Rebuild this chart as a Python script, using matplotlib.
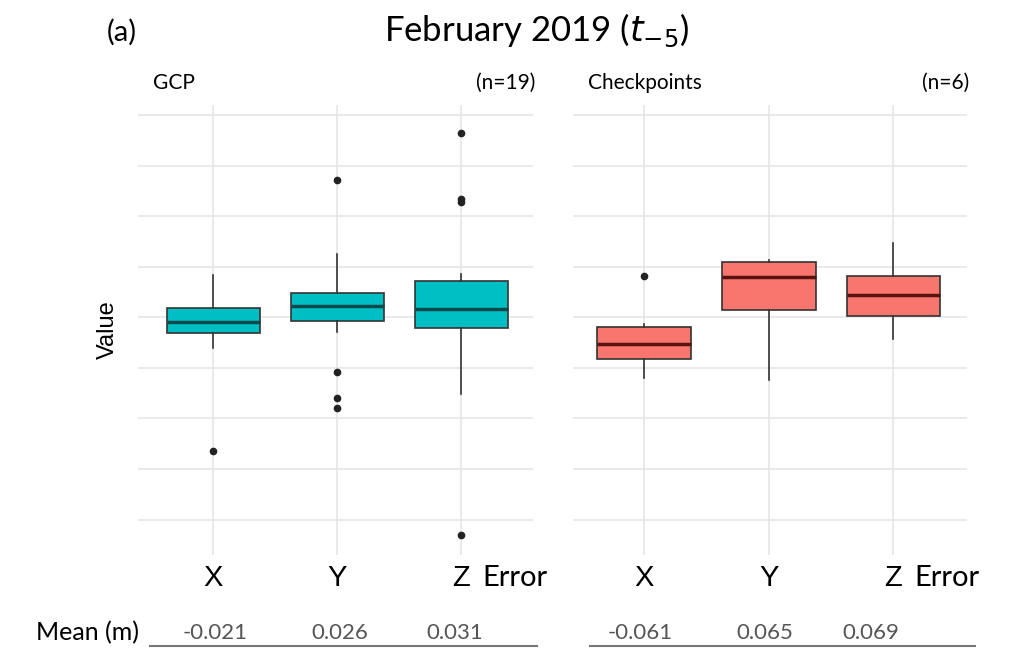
import matplotlib
matplotlib.use("Agg")
import matplotlib.pyplot as plt
import matplotlib.transforms as mtransforms
import numpy as np

# ---- data (arbitrary value units, grid step 0.05) ----
axes_labels = ["X", "Y", "Z"]

gcp_q1 = [-0.0154, -0.0039, -0.0101]
gcp_med = [-0.0042, 0.0115, 0.0081]
gcp_q3 = [0.0091, 0.0238, 0.0360]
gcp_wlo = [-0.0301, -0.0147, -0.0762]
gcp_whi = [0.0415, 0.0627, 0.0425]
gcp_out = [[-0.1324], [0.1363, -0.0539, -0.0801, -0.0899], [0.182, 0.1167, 0.114, -0.215]]
gcp_means = ["-0.021", "0.026", "0.031"]

chk_q1 = [-0.0409, 0.0069, 0.0013]
chk_med = [-0.0268, 0.0395, 0.0223]
chk_q3 = [-0.0098, 0.0546, 0.0405]
chk_wlo = [-0.0598, -0.0621, -0.0213]
chk_whi = [-0.0066, 0.0572, 0.0735]
chk_out = [[0.0405], [], []]
chk_means = ["-0.061", "0.065", "0.069"]

panel_titles = ["GCP", "Checkpoints"]
panel_n = ["(n=19)", "(n=6)"]
panel_colors = ["#00BFC4", "#F8766D"]
median_colors = ["#0b4a4c", "#5a1410"]

cal = ["Lato", "DejaVu Sans"]
arial = ["Liberation Sans", "DejaVu Sans"]

fig = plt.figure(figsize=(10.18, 6.5), dpi=100)

W, H = 1018.0, 650.0
ax_top, ax_bot = 105, 555
panels = [
    dict(left=138, right=533, xlim=(0.395, 3.58), mean_x=[1.02, 2.02, 2.95], line_x=[150, 537],
         q1=gcp_q1, med=gcp_med, q3=gcp_q3, wlo=gcp_wlo, whi=gcp_whi, out=gcp_out, means=gcp_means),
    dict(left=573, right=967, xlim=(0.43, 3.59), mean_x=[0.97, 1.97, 2.82], line_x=[590, 975],
         q1=chk_q1, med=chk_med, q3=chk_q3, wlo=chk_wlo, whi=chk_whi, out=chk_out, means=chk_means),
]

for i, p in enumerate(panels):
    ax = fig.add_axes([p["left"] / W, 1 - ax_bot / H, (p["right"] - p["left"]) / W, (ax_bot - ax_top) / H])
    stats = []
    for k in range(3):
        stats.append(dict(q1=p["q1"][k], med=p["med"][k], q3=p["q3"][k],
                          whislo=p["wlo"][k], whishi=p["whi"][k], fliers=p["out"][k]))
    ax.bxp(stats, positions=[1, 2, 3], widths=0.75, patch_artist=True, showcaps=False,
           boxprops=dict(facecolor=panel_colors[i], edgecolor="#333333", linewidth=1.2),
           medianprops=dict(color=median_colors[i], linewidth=2.5),
           whiskerprops=dict(color="#333333", linewidth=1.2),
           flierprops=dict(marker="o", markerfacecolor="#222222", markeredgecolor="#222222", markersize=4.5))
    ax.set_xlim(*p["xlim"])
    ax.set_ylim(-0.235, 0.21)
    ax.set_yticks(np.arange(-0.2, 0.201, 0.05))
    ax.set_yticklabels([])
    ax.set_xticks([1, 2, 3])
    ax.set_xticklabels([])
    ax.tick_params(length=0)
    ax.grid(True, color="#e6e6e6", linewidth=1.2)
    ax.set_axisbelow(True)
    for s in ax.spines.values():
        s.set_visible(False)

    trans = mtransforms.blended_transform_factory(ax.transData, fig.transFigure)

    # category labels under the panel
    for k, lab in enumerate(axes_labels):
        ax.text(k + 1, 1 - 578 / H, lab, ha="center", va="center", fontsize=21, family=arial, transform=trans)
    ax.text(3.17, 1 - 578 / H, "Error", ha="left", va="center", fontsize=21, family=cal, transform=trans)

    # panel headers
    fig.text((p["left"] + 15) / W, 1 - 83 / H, panel_titles[i], ha="left", va="center", fontsize=15, family=cal)
    fig.text((p["right"] + 2) / W, 1 - 83 / H, panel_n[i], ha="right", va="center", fontsize=15, family=cal)

    # mean row
    for k, m in enumerate(p["means"]):
        ax.text(p["mean_x"][k], 1 - 633 / H, m, ha="center", va="center", fontsize=16, family=cal,
                color="#555555", transform=trans)
    fig.add_artist(plt.Line2D([p["line_x"][0] / W, p["line_x"][1] / W], [1 - 646 / H, 1 - 646 / H],
                             color="#777777", linewidth=1.5))

fig.text(108 / W, 1 - 330 / H, "Value", rotation=90, ha="center", va="center", fontsize=17, family=arial)
fig.text(122 / W, 1 - 32 / H, "(a)", ha="center", va="center", fontsize=21, family=cal)
fig.text(537 / W, 1 - 30 / H, r"February 2019 ($t_{-5}$)", ha="center", va="center",
         fontsize=25, family=cal)
fig.text(88 / W, 1 - 633 / H, "Mean (m)", ha="center", va="center", fontsize=18, family=cal)

fig.savefig("out.png", dpi=100, facecolor="white")
